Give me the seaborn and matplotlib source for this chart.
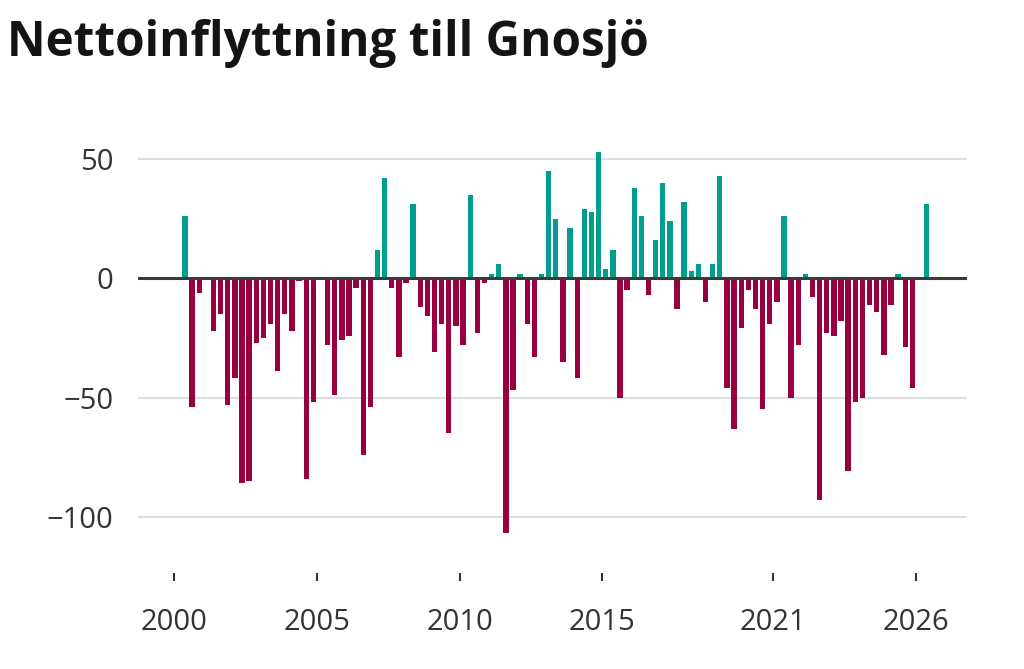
import numpy as np
import pandas as pd
import matplotlib
matplotlib.use("Agg")
import matplotlib.pyplot as plt
import seaborn as sns

# Quarterly net migration to Gnosjö, first quarter shown: 2000 Q2
start_period = "2000Q2"
values = [
    26, -54, -6, 0, -22, -15, -53, -42, -86, -85,
    -27, -25, -19, -39, -15, -22, -1, -84, -52, 0,
    -28, -49, -26, -24, -4, -74, -54, 12, 42, -4,
    -33, -2, 31, -12, -16, -31, -19, -65, -20, -28,
    35, -23, -2, 2, 6, -107, -47, 2, -19, -33,
    2, 45, 25, -35, 21, -42, 29, 28, 53, 4,
    12, -50, -5, 38, 26, -7, 16, 40, 24, -13,
    32, 3, 6, -10, 6, 43, -46, -63, -21, -5,
    -13, -55, -19, -10, 26, -50, -28, 2, -8, -93,
    -23, -24, -18, -81, -52, -50, -11, -14, -32, -11,
    2, -29, -46, 0, 31,
]
tick_years = [2000, 2005, 2010, 2015, 2021, 2026]
y_ticks = [50, 0, -50, -100]
y_tick_labels = ["50", "0", "\u221250", "\u2212100"]
title = "Nettoinflyttning till Gnosjö"

pos_color = "#009e8e"
neg_color = "#990040"

periods = pd.period_range(start_period, periods=len(values), freq="Q")
df = pd.DataFrame({
    "t": periods.year + (periods.quarter - 1) / 4 + 0.125,
    "v": values,
})
df["sign"] = np.where(df["v"] >= 0, "pos", "neg")

sns.set_theme(style="white")
plt.rcParams["font.family"] = ["Open Sans", "DejaVu Sans"]

fig = plt.figure(figsize=(10.24, 6.69), dpi=100)
ax = fig.add_axes([138.3 / 1024, 1 - 573 / 669, (966.7 - 138.3) / 1024, (573 - 135.3) / 669])

sns.barplot(data=df, x="t", y="v", hue="sign", native_scale=True,
            palette={"pos": pos_color, "neg": neg_color}, dodge=False,
            width=0.75, errorbar=None, legend=False, ax=ax,
            edgecolor="none", linewidth=0, saturation=1, zorder=2)

ax.set_xlim(1998.74, 2027.78)
ax.set_ylim(-123.6, 60)

for yv in [50, -50, -100]:
    ax.axhline(yv, color="#dddddd", lw=1.5, zorder=1)
ax.axhline(0, color="#3a3a3a", lw=2.2, zorder=3)

ax.set_yticks(y_ticks)
ax.set_yticklabels(y_tick_labels)
ax.set_xticks(tick_years)
ax.set_xticklabels([str(y) for y in tick_years])
ax.tick_params(axis="y", length=0, pad=18, labelsize=21, labelcolor="#333333")
ax.tick_params(axis="x", length=6, width=1.5, color="#333333", pad=19,
               labelsize=21, labelcolor="#333333", bottom=True, direction="out")
for s in ax.spines.values():
    s.set_visible(False)
ax.set_xlabel("")
ax.set_ylabel("")
ax.grid(False)

fig.text(7 / 1024, 1 - 56 / 669, title, fontsize=34.3, fontweight="bold",
         color="#141414", ha="left", va="baseline")

fig.savefig("out.png", dpi=100, facecolor="white")
